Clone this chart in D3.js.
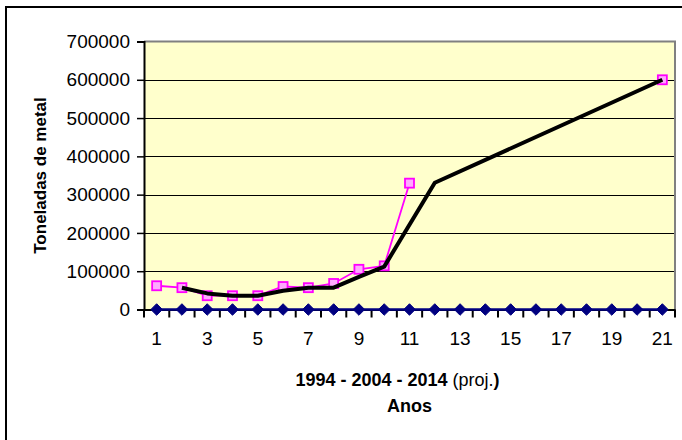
<!DOCTYPE html>
<html><head><meta charset="utf-8">
<script src="https://cdn.jsdelivr.net/npm/d3@7"></script>
<style>body{margin:0;background:#fff;} svg{display:block;font-family:"Liberation Sans",Arial,sans-serif;}</style>
</head><body>
<svg id="c" width="682" height="440"></svg>
<script>
const categories = d3.range(1, 22);
const yTicks = [0,100000,200000,300000,400000,500000,600000,700000];
// pink series (historical), gaps as null
const pinkValues = [62000,57000,36000,36000,36000,60000,57000,68000,105000,114000,330000,
  null,null,null,null,null,null,null,null,null,600000];
// black series (trend / projection), vertices only
const blackValues = [null,57000,42000,36000,36000,49000,57000,57000,85000,112000,null,331000,
  null,null,null,null,null,null,null,null,600000];
// navy series, all zero
const blueValues = [0,0,0,0,0,0,0,0,0,0,0,0,0,0,0,0,0,0,0,0,0];
const xLabels = ["1","3","5","7","9","11","13","15","17","19","21"];
const yTitle = "Toneladas de metal";
const xTitleBold = "1994 - 2004 - 2014 ";
const xTitleNormal = "(proj.";
const xTitleEnd = ")";
const xTitle2 = "Anos";

const svg = d3.select("#c");
const L = 144, R = 675, T = 41.5, B = 309.5;
const x = d3.scaleBand().domain(categories).range([L, R]);
const cx = c => x(c) + x.bandwidth()/2;
const y = d3.scaleLinear().domain([0, 700000]).range([B, T]);

// chart border (cut off at right/bottom)
svg.append("rect").attr("x",6).attr("y",7).attr("width",720).attr("height",500)
  .attr("fill","none").attr("stroke","#000").attr("stroke-width",2);

// plot area
svg.append("rect").attr("x",L).attr("y",T).attr("width",R-L).attr("height",B-T)
  .attr("fill","#FFFFCC");

// gridlines
svg.append("g").selectAll("line").data(yTicks.filter(v=>v>0 && v<700000)).join("line")
  .attr("x1",L).attr("x2",R).attr("y1",d=>Math.round(y(d))+0.5).attr("y2",d=>Math.round(y(d))+0.5)
  .attr("stroke","#000").attr("stroke-width",1.2);

// plot border top/right gray
svg.append("path").attr("d",`M${L},${T}H${R}V${B}`).attr("fill","none")
  .attr("stroke","#808080").attr("stroke-width",2);

// y axis
const yAxis = d3.axisLeft(y).tickValues(yTicks).tickSize(7).tickPadding(7).tickFormat(d3.format("d"));
const gy = svg.append("g").attr("transform",`translate(${L},0)`).call(yAxis);
gy.select(".domain").attr("stroke","#000").attr("stroke-width",2);
gy.selectAll(".tick line").attr("stroke","#000").attr("stroke-width",1.5);
gy.selectAll(".tick text").attr("font-size",19).attr("fill","#000")
  .attr("font-family","Liberation Sans, Arial, sans-serif");

// x axis: ticks between categories
const xAxis = d3.axisBottom(x).tickValues(categories).tickSize(0).tickPadding(22)
  .tickFormat(d => xLabels.includes(String(d)) ? String(d) : "");
const gx = svg.append("g").attr("transform",`translate(0,${B})`).call(xAxis);
gx.select(".domain").attr("stroke","#000").attr("stroke-width",2);
gx.selectAll(".tick text").attr("font-size",19).attr("fill","#000")
  .attr("font-family","Liberation Sans, Arial, sans-serif");
const edges = categories.map(c => x(c)).concat([R]);
svg.append("g").selectAll("line").data(edges).join("line")
  .attr("x1",d=>d).attr("x2",d=>d).attr("y1",B).attr("y2",B+8)
  .attr("stroke","#000").attr("stroke-width",2);

// blue series
const bluePts = categories.map((c,i)=>({c, v: blueValues[i]}));
svg.append("path").datum(bluePts)
  .attr("d", d3.line().x(d=>cx(d.c)).y(d=>y(d.v)))
  .attr("fill","none").attr("stroke","#000080").attr("stroke-width",2.5);
svg.append("g").selectAll("path").data(bluePts).join("path")
  .attr("d", d3.symbol(d3.symbolDiamond2, 85))
  .attr("transform", d=>`translate(${cx(d.c)},${y(d.v)})`)
  .attr("fill","#000080").attr("stroke","#000080").attr("stroke-width",1);

// pink series
const pinkPts = categories.map((c,i)=>({c, v: pinkValues[i]}));
svg.append("path").datum(pinkPts)
  .attr("d", d3.line().defined(d=>d.v!=null).x(d=>cx(d.c)).y(d=>y(d.v)))
  .attr("fill","none").attr("stroke","#FF00FF").attr("stroke-width",1.8);
svg.append("g").selectAll("rect").data(pinkPts.filter(d=>d.v!=null)).join("rect")
  .attr("x", d=>cx(d.c)-4.5).attr("y", d=>y(d.v)-4.5).attr("width",9).attr("height",9)
  .attr("fill","#FFAAFF").attr("stroke","#FF00FF").attr("stroke-width",1.8);

// black series
const blackPts = categories.map((c,i)=>({c, v: blackValues[i]})).filter(d=>d.v!=null);
svg.append("path").datum(blackPts)
  .attr("d", d3.line().x(d=>cx(d.c)).y(d=>y(d.v)))
  .attr("fill","none").attr("stroke","#000").attr("stroke-width",4).attr("stroke-linejoin","round");

// titles
svg.append("text").attr("transform",`translate(46,${(T+B)/2}) rotate(-90)`)
  .attr("text-anchor","middle").attr("font-size",17).attr("font-weight","bold").text(yTitle);
const t1 = svg.append("text").attr("x",(L+R)/2 - 12).attr("y",386).attr("text-anchor","middle").attr("font-size",18);
t1.append("tspan").attr("font-weight","bold").text(xTitleBold);
t1.append("tspan").attr("font-weight","normal").text(xTitleNormal);
t1.append("tspan").attr("font-weight","bold").text(xTitleEnd);
svg.append("text").attr("x",(L+R)/2).attr("y",412).attr("text-anchor","middle")
  .attr("font-size",18).attr("font-weight","bold").text(xTitle2);
</script>
</body></html>
